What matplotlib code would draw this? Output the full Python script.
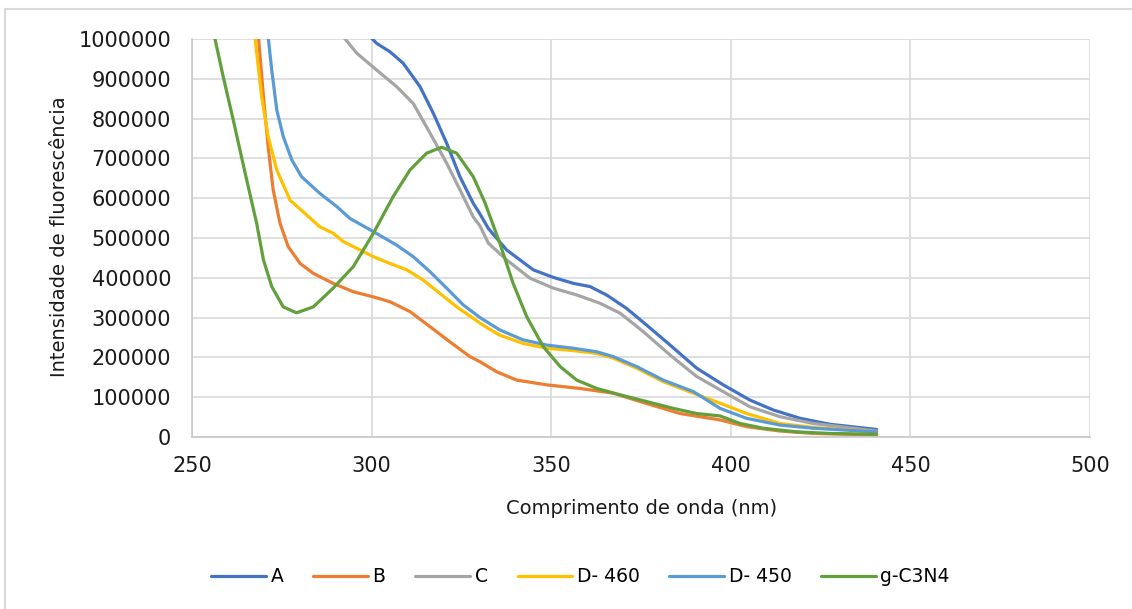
import matplotlib.pyplot as plt
from matplotlib.lines import Line2D
from matplotlib.ticker import MultipleLocator, FuncFormatter

plt.rcParams['font.family'] = ['DejaVu Sans']

# emission spectra, wavelength (nm) vs intensity
wl_a = [298.5, 299.6, 301.4, 305.1, 308.8, 313.5, 317.2, 320.9, 324.6, 328.3, 330.2, 332.5, 337.6,
        345.0, 350.6, 356.2, 360.8, 365.4, 371.0, 376.6, 383.1, 390.5, 397.9, 405.3, 411.8,
        419.3, 427.6, 440.6]
int_a = [1030000, 1006000, 989000, 968000, 939000, 880000, 813000, 738000, 654000, 587000, 560000,
         524000, 470000, 420000, 401000, 386000, 378000, 357000, 323000, 281000, 231000,
         173000, 131000, 93000, 68000, 47000, 32000, 19000]

wl_b = [268.0, 268.5, 269.9, 271.2, 272.6, 274.5, 276.8, 280.1, 283.8, 289.3, 294.9, 300.5, 305.1,
        310.7, 316.3, 321.8, 327.4, 330.2, 334.8, 340.4, 348.8, 358.0, 367.3, 376.6, 385.9,
        397.0, 404.4, 413.7, 423.0, 440.6]
int_b = [1050000, 1006000, 855000, 729000, 621000, 537000, 478000, 436000, 411000, 386000, 365000,
         352000, 340000, 315000, 277000, 239000, 202000, 189000, 164000, 143000, 131000,
         122000, 110000, 84000, 59000, 43000, 26000, 15000, 9000, 5000]

wl_c = [290.5, 292.1, 295.9, 301.4, 307.0, 311.6, 316.3, 320.9, 324.6, 328.3, 330.2, 332.5, 337.6,
        344.1, 350.6, 357.1, 363.6, 369.2, 375.6, 383.1, 390.5, 397.9, 405.3, 413.7, 423.0,
        440.6]
int_c = [1040000, 1006000, 964000, 922000, 880000, 838000, 763000, 688000, 621000, 553000, 530000,
         487000, 445000, 399000, 374000, 357000, 336000, 311000, 265000, 206000, 152000,
         114000, 76000, 51000, 34000, 15000]

wl_d460 = [267.0, 267.5, 269.4, 271.2, 273.6, 277.3, 281.9, 285.6, 289.3, 292.1, 295.9, 300.5,
           305.1, 309.8, 314.4, 319.0, 323.7, 328.3, 330.2, 332.5, 335.7, 342.2, 348.8, 356.2,
           362.7, 367.3, 373.8, 381.2, 389.6, 397.0, 404.4, 413.7, 423.0, 440.6]
int_d460 = [1060000, 1006000, 855000, 755000, 671000, 595000, 558000, 528000, 512000, 491000,
            474000, 453000, 436000, 420000, 394000, 361000, 327000, 298000, 286000, 273000,
            256000, 235000, 223000, 217000, 210000, 198000, 173000, 139000, 110000, 85000,
            59000, 34000, 24000, 13000]

wl_d450 = [270.9, 271.2, 272.2, 273.6, 275.4, 277.8, 280.5, 285.6, 290.3, 294.0, 300.5, 307.0,
           311.6, 316.3, 320.9, 325.5, 330.2, 335.7, 342.2, 348.8, 356.2, 362.7, 367.3, 373.8,
           381.2, 389.6, 397.0, 404.4, 413.7, 423.0, 440.6]
int_d450 = [1060000, 1006000, 922000, 822000, 755000, 696000, 654000, 612000, 579000, 549000,
            516000, 482000, 453000, 415000, 374000, 332000, 300000, 269000, 244000, 231000,
            223000, 214000, 202000, 177000, 143000, 114000, 72000, 47000, 30000, 22000, 13000]

wl_g = [255.5, 256.4, 258.7, 261.5, 264.8, 268.0, 269.9, 272.2, 275.4, 279.1, 283.8, 289.3, 294.9,
        300.5, 306.0, 310.7, 315.3, 319.5, 323.7, 328.3, 331.5, 335.7, 339.4, 343.2, 347.8,
        352.5, 357.1, 362.7, 369.2, 376.6, 384.0, 390.5, 397.0, 402.6, 409.1, 418.3, 427.6,
        440.6]
int_g = [1040000, 1000000, 905000, 796000, 663000, 537000, 445000, 378000, 327000, 312000, 327000,
         374000, 428000, 512000, 604000, 671000, 713000, 728000, 713000, 654000, 590000,
         487000, 386000, 302000, 227000, 177000, 143000, 122000, 106000, 89000, 72000, 59000,
         53000, 34000, 22000, 13000, 9000, 7000]

series = [
    ('A', wl_a, int_a, '#4472C4'),
    ('B', wl_b, int_b, '#ED7D31'),
    ('C', wl_c, int_c, '#A5A5A5'),
    ('D- 460', wl_d460, int_d460, '#FFC000'),
    ('D- 450', wl_d450, int_d450, '#5B9BD5'),
    ('g-C3N4', wl_g, int_g, '#62A03C'),
]

fig = plt.figure(figsize=(11.32, 6.09), dpi=100)
ax = fig.add_axes([0.1696, 0.2824, 0.7933, 0.6536])

for label, x, y, color in series:
    ax.plot(x, y, color=color, lw=2.3, label=label, solid_capstyle='round')

ax.set_xlim(250, 500)
ax.set_ylim(0, 1000000)
ax.xaxis.set_major_locator(MultipleLocator(50))
ax.yaxis.set_major_locator(MultipleLocator(100000))
ax.yaxis.set_major_formatter(FuncFormatter(lambda v, p: f'{int(round(v))}'))
ax.grid(True, color='#D9D9D9', lw=1.2)
ax.set_axisbelow(True)
for side in ['top', 'right']:
    ax.spines[side].set_visible(False)
for side in ['left', 'bottom']:
    ax.spines[side].set_color('#C8C8C8')
    ax.spines[side].set_linewidth(1.2)
ax.tick_params(length=0, labelsize=15, colors='#1A1A1A')
ax.tick_params(axis='y', pad=15)
ax.tick_params(axis='x', pad=14)

ax.set_xlabel('Comprimento de onda (nm)', fontsize=14, color='#1A1A1A')
ax.set_ylabel('Intensidade de fluorescência', fontsize=14, color='#1A1A1A')
ax.xaxis.set_label_coords(0.501, -0.156)
ax.yaxis.set_label_coords(-0.137, 0.504)

fig.legend(loc='center', bbox_to_anchor=(0.513, 1 - 577 / 609), ncol=6, frameon=False,
           handlelength=2.9, columnspacing=1.6, handletextpad=0.25,
           prop={'size': 13.5})

# chart area border (top and left edges only)
bx, by = 5 / 1132, 1 - 9 / 609
fig.add_artist(Line2D([bx, 1], [by, by], transform=fig.transFigure, color='#D9D9D9', lw=1.5))
fig.add_artist(Line2D([bx, bx], [0, by], transform=fig.transFigure, color='#D9D9D9', lw=1.5))

fig.savefig('out.png', dpi=100)
